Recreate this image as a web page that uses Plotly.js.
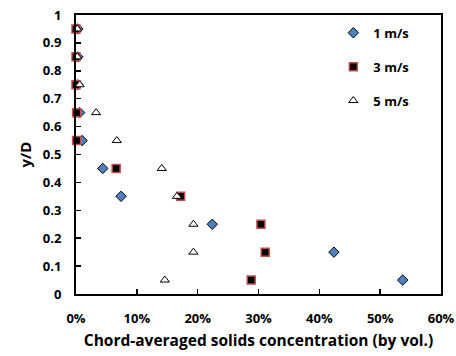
<!DOCTYPE html>
<html><head><meta charset="utf-8">
<script src="https://cdn.plot.ly/plotly-3.0.1.min.js"></script>
<style>body{margin:0;padding:0;background:#fff}#chart{width:456px;height:356px}</style>
</head><body><div id="chart"></div>
<script>
const yD = [0.05, 0.15, 0.25, 0.35, 0.45, 0.55, 0.65, 0.75, 0.85, 0.95];
const conc1 = [0.537, 0.424, 0.224, 0.074, 0.044, 0.010, 0.006, 0.003, 0.003, 0.003];
const conc3 = [0.288, 0.311, 0.304, 0.172, 0.066, 0.001, 0.001, 0.000, 0.000, 0.000];
const conc5 = [0.146, 0.193, 0.193, 0.166, 0.141, 0.067, 0.033, 0.006, 0.002, 0.002];
const names = ['1 m/s', '3 m/s', '5 m/s'];
const xTicks = [0, 0.1, 0.2, 0.3, 0.4, 0.5, 0.6];
const yTicks = [0, 0.1, 0.2, 0.3, 0.4, 0.5, 0.6, 0.7, 0.8, 0.9, 1];

const F = '"Open Sans", Arial, sans-serif';
const traces = [
  {x: conc1, y: yD, name: names[0], mode: 'markers', type: 'scatter', cliponaxis: false, legendgroup: 'a',
   marker: {symbol: 'diamond', size: 8, color: '#4f81bd', line: {color: '#000', width: 1}}},
  {x: conc3, y: yD, name: names[1], mode: 'markers', type: 'scatter', cliponaxis: false, legendgroup: 'b',
   marker: {symbol: 'square', size: 8, color: '#000', line: {color: '#c0504d', width: 1.5}}},
  {x: conc5, y: yD, name: names[2], mode: 'markers', type: 'scatter', cliponaxis: false, legendgroup: 'c',
   marker: {symbol: 'triangle-up', size: 8, color: '#fff', line: {color: '#000', width: 1}}}
];
const layout = {
  width: 456, height: 356,
  margin: {l: 76, r: 15, t: 15, b: 62},
  paper_bgcolor: '#fff', plot_bgcolor: '#fff',
  font: {family: F, size: 12, color: '#000', weight: 'bold'},
  showlegend: true,
  legend: {x: 0.705, xanchor: 'left', y: 0.99, yanchor: 'top', bgcolor: 'rgba(0,0,0,0)',
           traceorder: 'grouped', tracegroupgap: 14, font: {family: F, size: 13, weight: 'bold'}},
  xaxis: {range: [0, 0.6], tickvals: xTicks, tickformat: '.0%', showgrid: false, zeroline: false,
          showline: true, linewidth: 2, linecolor: '#000', mirror: true,
          ticks: 'inside', ticklen: 5, tickwidth: 1.5, tickcolor: '#000', ticklabelstandoff: 11,
          tickfont: {family: F, size: 13, weight: 'bold'},
          title: {text: 'Chord-averaged solids concentration (by vol.)', font: {family: F, size: 15.5, weight: 'bold'}, standoff: 10}},
  yaxis: {range: [0, 1], tickvals: yTicks, showgrid: false, zeroline: false,
          showline: true, linewidth: 2, linecolor: '#000', mirror: true,
          ticks: 'inside', ticklen: 5, tickwidth: 1.5, tickcolor: '#000', ticklabelstandoff: 10,
          tickfont: {family: F, size: 13, weight: 'bold'},
          title: {text: 'y/D', font: {family: F, size: 15, weight: 'bold'}, standoff: 8}}
};
Plotly.newPlot('chart', traces, layout, {displayModeBar: false, staticPlot: true});
</script></body></html>
